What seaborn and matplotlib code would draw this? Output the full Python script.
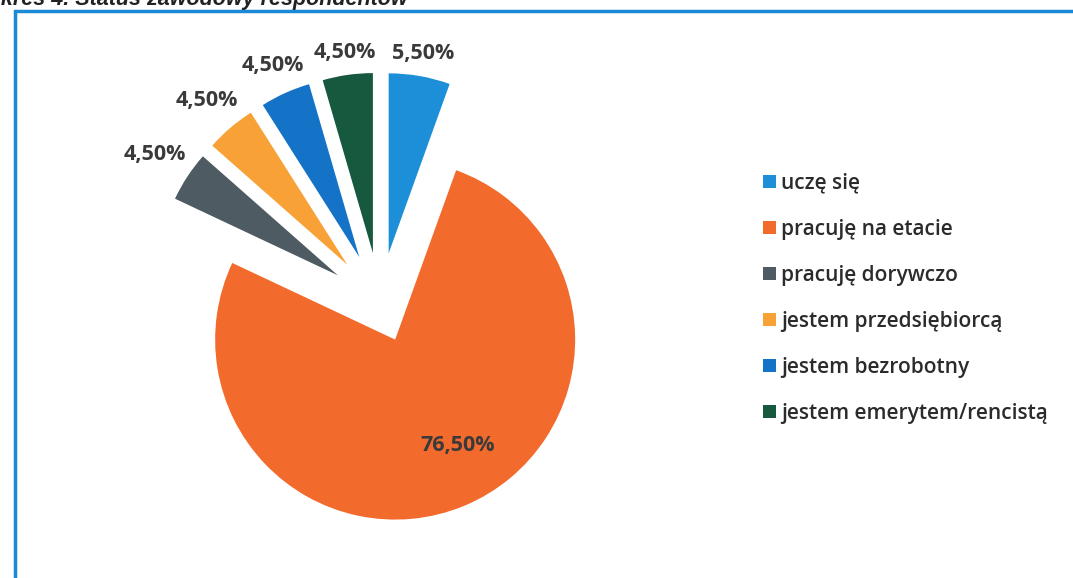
import matplotlib
matplotlib.use("Agg")
import matplotlib.pyplot as plt
import seaborn as sns
import numpy as np
from matplotlib.patches import Rectangle

# data
categories = ["uczę się", "pracuję na etacie", "pracuję dorywczo",
              "jestem przedsiębiorcą", "jestem bezrobotny", "jestem emerytem/rencistą"]
shares = [5.5, 76.5, 4.5, 4.5, 4.5, 4.5]
pct_labels = ["5,50%", "76,50%", "4,50%", "4,50%", "4,50%", "4,50%"]
title = "Wykres 4. Status zawodowy respondentów"

colors = ["#1c8fd8", "#f26a2c", "#4f5b62", "#f7a136", "#1473c6", "#17593f"]
explode = [0.28, 0.22, 0.28, 0.28, 0.28, 0.28]

sns.set_theme(style="white")
plt.rcParams["font.family"] = ["Open Sans", "DejaVu Sans"]
palette = sns.color_palette(colors)

W, H = 1073, 578
fig = plt.figure(figsize=(W / 100, H / 100), dpi=100)
fig.patch.set_facecolor("white")

# pie centre at (380, 303) px from top-left, radius 180 px
R = 180.0
cx, cy = 380, 303
left, right, top, bottom = 60, 680, 15, 570
ax = fig.add_axes([left / W, (H - bottom) / H, (right - left) / W, (bottom - top) / H])

wedges, _ = ax.pie(shares, colors=palette, explode=explode, startangle=90,
                   counterclock=False, radius=1.0, wedgeprops=dict(linewidth=0))
ax.set_xlim((left - cx) / R, (right - cx) / R)
ax.set_ylim(-(bottom - cy) / R, (cy - top) / R)
ax.axis("off")

# percentage labels
for w, lab, s in zip(wedges, pct_labels, shares):
    ang = np.deg2rad((w.theta1 + w.theta2) / 2)
    wx, wy = w.center
    if s > 50:
        ang += np.deg2rad(8)
        d = 0.68
    else:
        d = None
    ux, uy = np.cos(ang), np.sin(ang)
    if d is None:
        d = 1.0 + (8 + 31 * abs(ux) + 10 * abs(uy)) / R
    ax.text(wx + d * ux, wy + d * uy, lab, ha="center", va="center",
            fontsize=15.5, fontweight="bold", color="#3a3a3a")

fig.legend(wedges, categories, loc="center left",
           bbox_to_anchor=(763 / W, 1 - 298 / H), bbox_transform=fig.transFigure,
           frameon=False, handlelength=0.6, handleheight=0.6,
           handletextpad=0.25, labelspacing=1.2, borderpad=0, borderaxespad=0,
           prop=dict(family="Open Sans", size=15, weight="semibold"),
           labelcolor="#2b2b2b")

# blue frame of the chart area
fig.patches.append(Rectangle((15 / W, -0.1), 1.2, 1.1 - 11 / H,
                             transform=fig.transFigure, fill=False,
                             edgecolor="#1b8ad6", linewidth=2.5))

# title, cut off at the top of the scan
fig.text(408 / W, 1 - 5 / H, title, ha="right", va="baseline",
         fontsize=15.5, fontweight="bold", fontstyle="italic",
         family="Liberation Sans", color="#222222")

fig.savefig("out.png", dpi=100)
